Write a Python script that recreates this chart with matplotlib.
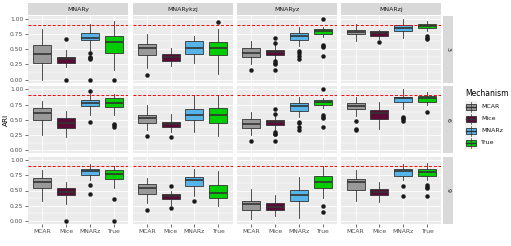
import numpy as np
import matplotlib
matplotlib.use("Agg")
import matplotlib.pyplot as plt
from matplotlib.patches import Rectangle

rows    = ['3', '6', '9']
cols    = ['MNARy', 'MNARykzj', 'MNARyz', 'MNARzj']
methods = ['MCAR', 'Mice', 'MNARz', 'True']
colors  = ['#999999', '#5B0A35', '#56B4E9', '#00CD00']
ref_ari = 0.9

# box stats [row][col][method]
whislo = [[[0.00, 0.20, 0.47, 0.15], [0.19, 0.22, 0.28, 0.09], [0.25, 0.33, 0.55, 0.70], [0.635, 0.66, 0.68, 0.79]],
          [[0.245, 0.22, 0.58, 0.576], [0.33, 0.30, 0.30, 0.234], [0.25, 0.33, 0.55, 0.70], [0.57, 0.353, 0.68, 0.74]],
          [[0.333, 0.279, 0.672, 0.546], [0.29, 0.26, 0.415, 0.25], [0.033, 0.082, 0.044, 0.372], [0.333, 0.306, 0.672, 0.672]]]
q1     = [[[0.28, 0.28, 0.645, 0.44], [0.40, 0.31, 0.42, 0.41], [0.37, 0.41, 0.65, 0.745], [0.74, 0.71, 0.79, 0.84]],
          [[0.50, 0.365, 0.72, 0.707], [0.445, 0.38, 0.49, 0.445], [0.37, 0.41, 0.65, 0.745], [0.674, 0.52, 0.79, 0.80]],
          [[0.546, 0.426, 0.754, 0.69], [0.448, 0.355, 0.574, 0.372], [0.186, 0.18, 0.328, 0.535], [0.514, 0.42, 0.738, 0.738]]]
med    = [[[0.425, 0.34, 0.685, 0.62], [0.52, 0.375, 0.51, 0.51], [0.43, 0.46, 0.72, 0.80], [0.785, 0.76, 0.85, 0.885]],
          [[0.61, 0.445, 0.77, 0.77], [0.53, 0.425, 0.58, 0.576], [0.43, 0.46, 0.72, 0.80], [0.734, 0.61, 0.85, 0.85]],
          [[0.645, 0.48, 0.825, 0.765], [0.54, 0.404, 0.672, 0.454], [0.279, 0.235, 0.426, 0.634], [0.634, 0.47, 0.82, 0.803]]]
q3     = [[[0.57, 0.375, 0.77, 0.71], [0.59, 0.42, 0.625, 0.61], [0.51, 0.49, 0.77, 0.83], [0.82, 0.79, 0.895, 0.92]],
          [[0.695, 0.527, 0.826, 0.85], [0.576, 0.46, 0.675, 0.695], [0.51, 0.49, 0.77, 0.83], [0.777, 0.663, 0.88, 0.886]],
          [[0.71, 0.535, 0.852, 0.83], [0.612, 0.443, 0.716, 0.59], [0.333, 0.29, 0.514, 0.743], [0.69, 0.52, 0.847, 0.852]]]
whishi = [[[0.83, 0.49, 0.91, 0.955], [0.75, 0.525, 0.72, 0.83], [0.625, 0.56, 0.87, 0.86], [0.91, 0.82, 0.99, 0.955]],
          [[0.815, 0.645, 0.925, 0.925], [0.75, 0.60, 0.91, 0.91], [0.625, 0.56, 0.87, 0.86], [0.87, 0.80, 1.00, 0.962]],
          [[0.836, 0.634, 0.93, 0.90], [0.71, 0.50, 0.847, 0.82], [0.52, 0.426, 0.72, 0.907], [0.836, 0.634, 0.93, 0.945]]]
fliers = [[[[], [0.66, 0.0], [0.44, 0.375, 0.35, 0.33, 0.0], [0.0]],
           [[0.07], [], [], [0.945]],
           [[0.155], [0.685, 0.60, 0.30, 0.275, 0.26, 0.155], [0.47, 0.44, 0.39, 0.33], [1.0, 0.575, 0.55, 0.53, 0.39]],
           [[], [0.61], [], [0.71, 0.68, 0.66]]],
          [[[], [], [0.97, 0.457], [0.435, 0.413, 0.39]],
           [[0.24], [0.22], [], []],
           [[0.155], [0.685, 0.60, 0.30, 0.275, 0.26, 0.155], [0.47, 0.44, 0.39, 0.33], [1.0, 0.575, 0.55, 0.53, 0.39]],
           [[0.478, 0.353, 0.33], [], [0.55, 0.527, 0.505, 0.484], [0.625]]],
          [[[], [0.0], [0.585, 0.437], [0.36, 0.0]],
           [[0.18], [0.58, 0.21], [0.333], []],
           [[], [], [], [0.246, 0.148]],
           [[], [], [0.574, 0.404], [0.585, 0.563, 0.54, 0.404]]]]

W, H = 511, 246
fig = plt.figure(figsize=(W/100, H/100), dpi=100)

def box(x0, y0, w, h):
    # pixel coords (top-left origin) -> figure fraction
    return [x0/W, 1 - (y0 + h)/H, w/W, h/H]

col_left = [28, 132.5, 237, 341.3]
row_top  = [15.6, 86.3, 157]
pw, ph   = 100, 67
grey_txt = '#4D4D4D'

for i, r in enumerate(rows):
    for j, c in enumerate(cols):
        ax = fig.add_axes(box(col_left[j], row_top[i], pw, ph))
        ax.set_facecolor('#EBEBEB')
        for s in ax.spines.values():
            s.set_visible(False)

        stats = []
        for k, m in enumerate(methods):
            stats.append(dict(whislo=whislo[i][j][k], q1=q1[i][j][k], med=med[i][j][k],
                              q3=q3[i][j][k], whishi=whishi[i][j][k], fliers=fliers[i][j][k]))
        bp = ax.bxp(stats, positions=[1, 2, 3, 4], widths=0.75, patch_artist=True,
                    showcaps=False,
                    boxprops=dict(edgecolor='#333333', lw=0.6),
                    whiskerprops=dict(color='#333333', lw=0.6),
                    medianprops=dict(color='#333333', lw=1.2),
                    flierprops=dict(marker='o', markerfacecolor='#1A1A1A', markeredgecolor='#1A1A1A',
                                    markersize=2.2))
        for patch, col in zip(bp['boxes'], colors):
            patch.set_facecolor(col)
        ax.axhline(ref_ari, color='red', ls=(0, (3, 2)), lw=0.7)

        ax.set_xlim(0.4, 4.6)
        ax.set_ylim(-0.05, 1.05)
        ax.set_yticks([0, 0.25, 0.5, 0.75, 1.0])
        ax.set_yticks([0.125, 0.375, 0.625, 0.875], minor=True)
        ax.set_xticks([1, 2, 3, 4])
        ax.grid(which='major', color='white', lw=0.6)
        ax.grid(which='minor', axis='y', color='white', lw=0.3)
        ax.set_axisbelow(True)
        ax.tick_params(which='major', length=2, width=0.5, color='#333333', labelsize=4.3,
                       labelcolor=grey_txt, pad=1.5)
        ax.tick_params(which='minor', length=0)
        if j == 0:
            ax.set_yticklabels(['0.00', '0.25', '0.50', '0.75', '1.00'])
        else:
            ax.tick_params(axis='y', length=0, labelleft=False)
        if i == 2:
            ax.set_xticklabels(methods)
        else:
            ax.tick_params(axis='x', length=0, labelbottom=False)

        if i == 0:
            sx = fig.add_axes(box(col_left[j], 3.3, pw, 11.7))
            sx.set_facecolor('#D9D9D9')
            sx.set_xticks([]); sx.set_yticks([])
            for s in sx.spines.values():
                s.set_visible(False)
            sx.text(0.5, 0.5, c, ha='center', va='center', fontsize=4.5, color='#1A1A1A')
    sy = fig.add_axes(box(442.7, row_top[i], 10.6, ph))
    sy.set_facecolor('#D9D9D9')
    sy.set_xticks([]); sy.set_yticks([])
    for s in sy.spines.values():
        s.set_visible(False)
    sy.text(0.5, 0.5, r, ha='center', va='center', rotation=-90, fontsize=4.5, color='#1A1A1A')

fig.text(6/W, 1 - 120/H, 'ARI', rotation=90, ha='center', va='center', fontsize=5.2)

# legend
fig.text(465/W, 1 - 94/H, 'Mechanism', ha='left', va='center', fontsize=5.5)
for k, m in enumerate(methods):
    yc = 107 + 12*k
    lax = fig.add_axes(box(465, yc - 6, 12, 12))
    lax.set_facecolor('#F2F2F2')
    lax.set_xlim(0, 1); lax.set_ylim(0, 1)
    lax.set_xticks([]); lax.set_yticks([])
    for s in lax.spines.values():
        s.set_visible(False)
    lax.plot([0.5, 0.5], [0.05, 0.95], color='#333333', lw=0.5)
    lax.add_patch(Rectangle((0.1, 0.25), 0.8, 0.5, facecolor=colors[k], edgecolor='#333333', lw=0.6))
    lax.plot([0.1, 0.9], [0.5, 0.5], color='#333333', lw=1.0)
    fig.text(481/W, 1 - yc/H, m, ha='left', va='center', fontsize=4.5, color='#1A1A1A')

fig.savefig('out.png', dpi=100)
